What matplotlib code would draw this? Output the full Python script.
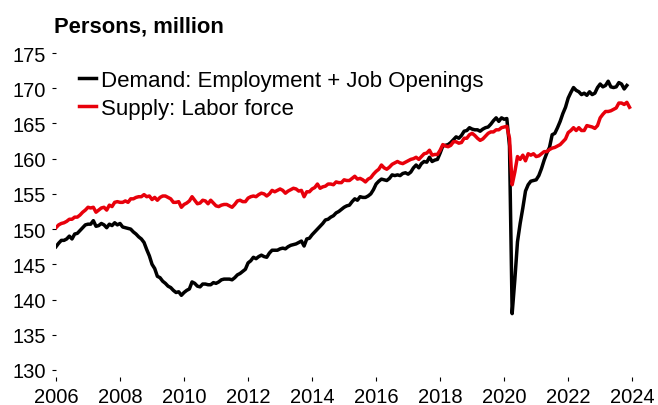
import numpy as np
import matplotlib
matplotlib.use("Agg")
import matplotlib.pyplot as plt

plt.rcParams['font.family'] = ['Liberation Sans', 'DejaVu Sans']

# Monthly values, million persons (Jan 2006 onward)
supply_labor_force = [
    # 2006
    150.2, 150.6, 150.8, 150.9, 151.1, 151.4, 151.4, 151.7, 151.7, 152.0, 152.4, 152.7,
    # 2007
    153.1, 153.0, 153.1, 152.4, 152.7, 153.0, 153.1, 152.7, 153.4, 153.2, 153.8, 153.9,
    # 2008
    153.8, 153.8, 154.0, 153.8, 154.3, 154.3, 154.5, 154.6, 154.6, 154.9, 154.6, 154.7,
    # 2009
    154.2, 154.5, 154.1, 154.5, 154.7, 154.7, 154.5, 154.3, 153.8, 153.8, 153.9, 153.1,
    # 2010
    153.5, 153.7, 154.0, 154.6, 154.1, 153.6, 153.7, 154.1, 154.0, 153.6, 154.1, 153.7,
    # 2011
    153.3, 153.2, 153.4, 153.5, 153.5, 153.3, 153.1, 153.5, 154.0, 154.1, 153.9, 153.9,
    # 2012
    154.4, 154.6, 154.7, 154.6, 154.9, 155.1, 155.0, 154.7, 155.0, 155.5, 155.3, 155.5,
    # 2013
    155.7, 155.5, 155.1, 155.4, 155.6, 155.8, 155.7, 155.4, 155.5, 154.6, 155.3, 155.3,
    # 2014
    155.7, 155.9, 156.4, 155.8, 156.0, 156.1, 156.4, 156.4, 156.3, 156.7, 156.6, 156.6,
    # 2015
    157.0, 156.9, 156.9, 157.2, 157.5, 157.1, 157.2, 157.0, 156.7, 157.1, 157.3, 157.8,
    # 2016
    158.2, 158.5, 159.1, 158.7, 158.5, 158.8, 159.2, 159.4, 159.6, 159.4, 159.3, 159.5,
    # 2017
    159.7, 159.9, 160.0, 160.2, 159.9, 160.3, 160.7, 160.8, 161.2, 160.5, 160.6, 160.6,
    # 2018
    161.2, 162.0, 161.8, 161.7, 161.9, 162.4, 162.4, 162.2, 162.3, 162.9, 162.9, 163.4,
    # 2019
    163.6, 163.3, 162.9, 162.6, 162.8, 163.2, 163.6, 163.8, 163.8, 164.1, 164.1, 164.4,
    # 2020
    164.5, 164.6, 162.9, 156.3, 158.1, 160.3, 159.9, 160.5, 159.7, 160.7, 160.5, 160.7,
    # 2021
    160.3, 160.4, 160.7, 161.0, 161.0, 161.3, 161.5, 161.6, 161.8, 162.0, 162.4, 162.8,
    # 2022
    163.7, 164.0, 164.4, 164.0, 164.4, 164.0, 164.0, 164.7, 164.6, 164.5, 164.3, 164.7,
    # 2023
    165.8, 166.3, 166.7, 166.7, 166.8, 167.0, 167.2, 167.9, 167.9, 167.7, 168.0, 167.3,
]

demand_emp_openings = [
    # 2006
    147.5, 148.0, 148.4, 148.4, 148.6, 149.0, 148.6, 149.3, 149.4, 149.8, 150.2, 150.6,
    # 2007
    150.7, 150.7, 151.2, 150.4, 150.5, 150.8, 150.6, 150.2, 150.7, 150.5, 150.9, 150.6,
    # 2008
    150.8, 150.3, 150.2, 150.1, 150.0, 149.6, 149.3, 148.9, 148.6, 148.1, 147.1, 146.2,
    # 2009
    145.0, 144.4, 143.3, 143.1, 142.6, 142.3, 141.9, 141.7, 141.3, 141.0, 141.1, 140.6,
    # 2010
    141.0, 141.3, 141.5, 142.5, 142.3, 141.9, 141.8, 142.2, 142.2, 142.1, 142.1, 142.4,
    # 2011
    142.3, 142.5, 142.8, 142.9, 142.9, 142.9, 142.8, 143.1, 143.5, 143.7, 144.0, 144.3,
    # 2012
    145.2, 145.5, 146.0, 145.8, 146.1, 146.3, 146.1, 146.0, 146.6, 147.0, 147.0, 147.0,
    # 2013
    147.2, 147.3, 147.2, 147.5, 147.7, 147.8, 147.9, 148.1, 148.3, 147.6, 148.6, 148.7,
    # 2014
    149.2, 149.6, 150.0, 150.4, 150.8, 151.3, 151.4, 151.7, 151.9, 152.3, 152.5, 152.8,
    # 2015
    153.1, 153.3, 153.4, 153.9, 154.3, 154.1, 154.6, 154.5, 154.5, 154.7, 155.0, 155.6,
    # 2016
    156.4, 156.8, 157.1, 157.0, 156.9, 157.2, 157.7, 157.6, 157.7, 157.6, 157.9, 158.0,
    # 2017
    157.8, 158.1, 158.7, 159.1, 158.7, 159.3, 159.6, 159.5, 160.2, 159.6, 159.8, 159.9,
    # 2018
    160.8, 161.8, 161.9, 162.0, 162.3, 162.7, 163.1, 162.9, 163.3, 163.9, 164.0, 164.4,
    # 2019
    164.2, 164.1, 164.1, 163.9, 164.2, 164.4, 164.5, 164.9, 165.4, 165.8, 165.3, 165.8,
    # 2020
    165.6, 165.7, 161.8, 138.0, 142.8, 148.2, 150.8, 153.0, 155.4, 156.3, 156.8, 156.9,
    # 2021
    157.0, 157.6, 158.6, 159.8, 160.8, 161.6, 163.4, 163.6, 164.4, 165.3, 166.4, 167.3,
    # 2022
    168.6, 169.4, 170.1, 169.7, 169.5, 169.1, 169.3, 169.0, 169.5, 169.1, 169.3, 170.1,
    # 2023
    170.6, 170.2, 170.4, 171.0, 170.2, 170.1, 170.2, 170.8, 170.6, 169.9, 170.4,
]

start_year = 2006
x_ticks = [2006, 2008, 2010, 2012, 2014, 2016, 2018, 2020, 2022, 2024]
y_ticks = [130, 135, 140, 145, 150, 155, 160, 165, 170, 175]

t_supply = start_year + np.arange(len(supply_labor_force)) / 12.0
t_demand = start_year + np.arange(len(demand_emp_openings)) / 12.0

W, H = 658, 406
fig = plt.figure(figsize=(W / 100, H / 100), dpi=100)
ax = fig.add_axes([56 / W, (H - 378) / H, 589 / W, 331 / H])

ax.plot(t_demand, demand_emp_openings, color='black', lw=2.5,
        label='Demand: Employment + Job Openings', solid_joinstyle='round')
ax.plot(t_supply, supply_labor_force, color='#e8000b', lw=2.5,
        label='Supply: Labor force', solid_joinstyle='round')

ax.set_xlim(2006, 2024.4)
ax.set_ylim(129, 176)
ax.set_xticks(x_ticks)
ax.set_xticklabels([str(v) for v in x_ticks])
ax.set_yticks(y_ticks)
for s in ax.spines.values():
    s.set_visible(False)
ax.tick_params(axis='y', direction='out', length=3, width=0.8, pad=4.5,
               labelsize=14.5, colors='black')
ax.tick_params(axis='x', direction='out', length=3, width=0.8, pad=4,
               labelsize=14.5, colors='black')

fig.text(54 / W, 1 - 27 / H, 'Persons, million', fontsize=15.8, fontweight='bold',
         ha='left', va='center')

leg = ax.legend(loc='upper left', bbox_to_anchor=(79 / W, 1 - 71 / H),
                bbox_transform=fig.transFigure, frameon=False,
                fontsize=16, handlelength=0.78, handletextpad=0.2,
                labelspacing=0.32, borderpad=0, borderaxespad=0)

fig.savefig('out.png', dpi=100)
